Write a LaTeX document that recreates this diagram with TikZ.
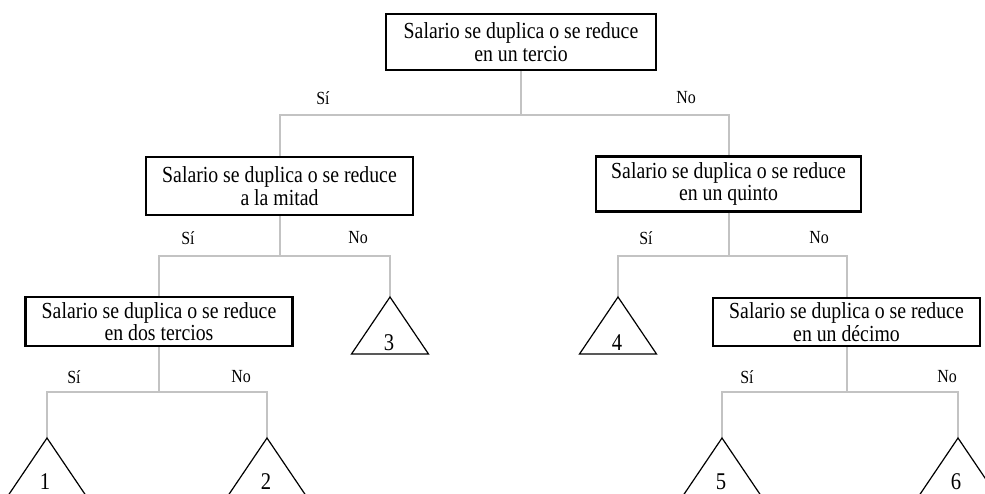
\documentclass[tikz,border=0pt]{standalone}
\usepackage{fontspec}
\newfontfamily\tnr[FakeStretch=0.86]{Liberation Serif}
\definecolor{conncol}{RGB}{195,195,195}
\begin{document}
\begin{tikzpicture}[x=1pt,y=-1pt,
  box/.style={draw=black,line width=2.2pt,inner sep=0pt,align=center,font=\tnr\fontsize{23}{22.4}\selectfont},
  conn/.style={draw=conncol,line width=2pt},
  tri/.style={draw=black,line width=1.2pt,line join=miter},
  lab/.style={font=\tnr\fontsize{18.5}{18.5}\selectfont,inner sep=0pt},
  num/.style={font=\tnr\fontsize{24}{24}\selectfont,anchor=base,inner sep=0pt}]
\useasboundingbox (0,0) rectangle (985,493);
\clip (0,0) rectangle (985,493);

% decision boxes
\node[box,minimum width=270pt,minimum height=56pt] (top) at (521,42) {Salario se duplica o se reduce\\en un tercio};
\node[box,minimum width=267pt,minimum height=58pt] (l1) at (279.5,186) {Salario se duplica o se reduce\\a la mitad};
\node[box,minimum width=265pt,minimum height=55pt] (r1) at (728.5,184) {Salario se duplica o se reduce\\en un quinto};
\node[box,minimum width=267pt,minimum height=49pt] (l2) at (159,321.5) {Salario se duplica o se reduce\\en dos tercios};
\node[box,minimum width=267pt,minimum height=48pt] (r2) at (846.5,322) {Salario se duplica o se reduce\\en un décimo};

% triangle apexes
\coordinate (t1) at (47,438);
\coordinate (t2) at (267,438);
\coordinate (t3) at (390,297);
\coordinate (t4) at (618,297);
\coordinate (t5) at (722,438);
\coordinate (t6) at (958,438);

% junctions
\coordinate (j0) at (521,115);
\coordinate (j1) at (279.5,256);
\coordinate (j2) at (728.5,256);
\coordinate (j3) at (159,392);
\coordinate (j4) at (846.5,392);

% connectors
\draw[conn] (top.south) -- (j0);
\draw[conn] (l1.north) |- (j0) -| (r1.north);
\draw[conn] (l1.south) -- (j1);
\draw[conn] (l2.north) |- (j1) -| (t3);
\draw[conn] (r1.south) -- (j2);
\draw[conn] (t4) |- (j2) -| (r2.north);
\draw[conn] (l2.south) -- (j3);
\draw[conn] (t1) |- (j3) -| (t2);
\draw[conn] (r2.south) -- (j4);
\draw[conn] (t5) |- (j4) -| (t6);

% triangles
\foreach \t in {t1,t2,t3,t4,t5,t6}{
  \draw[tri] (\t) -- ++(-38.5,57) -- ++(77,0) -- cycle;
}
\node[num] (n1) at (45,489) {1};
\node[num] (n2) at (266,489) {2};
\node[num] (n3) at (389,350) {3};
\node[num] (n4) at (617,350) {4};
\node[num] (n5) at (721,489) {5};
\node[num] (n6) at (956,489) {6};

% labels
\node[lab] (s0) at (323,98) {Sí};
\node[lab] (o0) at (686,98) {No};
\node[lab] (s1) at (188,238) {Sí};
\node[lab] (o1) at (358,238) {No};
\node[lab] (s2) at (646,238) {Sí};
\node[lab] (o2) at (819,238) {No};
\node[lab] (s3) at (74,377) {Sí};
\node[lab] (o3) at (241,377) {No};
\node[lab] (s4) at (747,377) {Sí};
\node[lab] (o4) at (947,377) {No};
\end{tikzpicture}
\end{document}
